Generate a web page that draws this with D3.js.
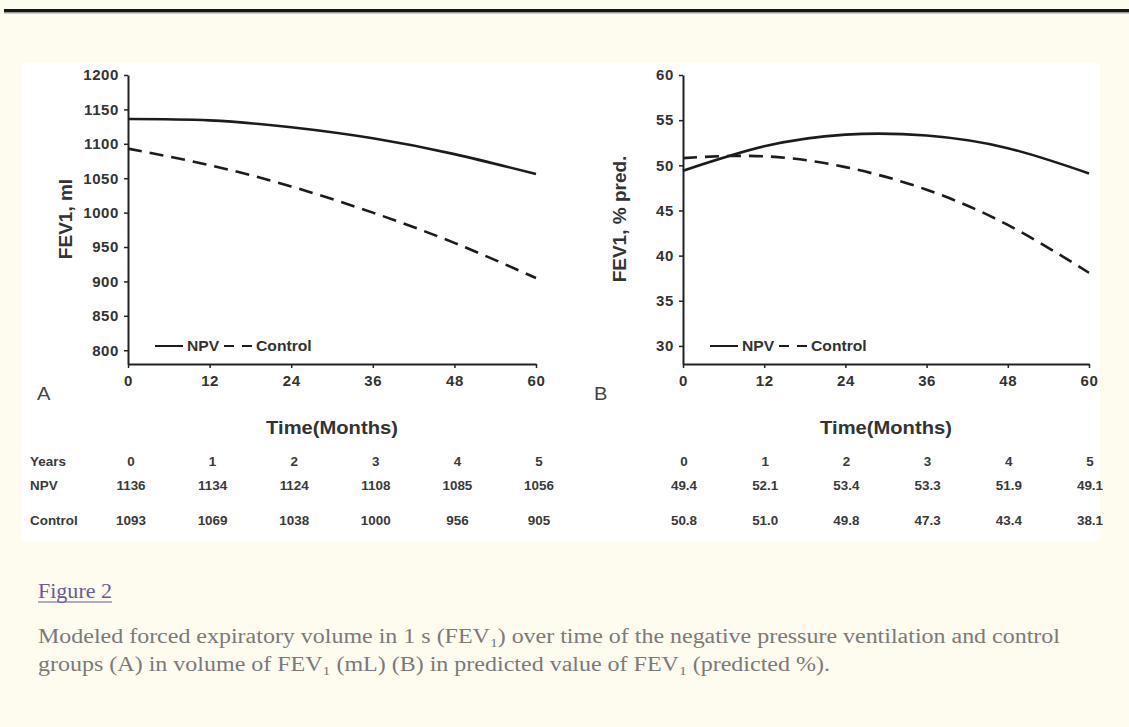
<!DOCTYPE html>
<html lang="en">
<head>
<meta charset="utf-8">
<title>FEV1 over time</title>
<script type="text/javascript" src="https://cdn.jsdelivr.net/npm/d3@7"></script>
<style type="text/css">
	body { margin:0; background:#fefcee; }
	svg text { font-family: Arial, "Liberation Sans", sans-serif; }
</style>
</head>
<body>
<div id="chart"></div>
<script type="text/javascript">

var years = [0,1,2,3,4,5]
var months = [0,12,24,36,48,60]
var npvMl = [1136,1134,1124,1108,1085,1056]
var controlMl = [1093,1069,1038,1000,956,905]
var npvPct = [49.4,52.1,53.4,53.3,51.9,49.1]
var controlPct = [50.8,51.0,49.8,47.3,43.4,38.1]
var yTicksMl = [800,850,900,950,1000,1050,1100,1150,1200]
var yTicksPct = [30,35,40,45,50,55,60]
var seriesNames = ["NPV","Control"]

var W = 1129, H = 727
var sx = 1.12   // the picture is a bit wider than tall

var svg = d3.select("#chart").append("svg")
	.attr("width",W)
	.attr("height",H)

svg.append("rect").attr("x",0).attr("y",0).attr("width",W).attr("height",H).attr("fill","#fefcee")
// top rule
svg.append("rect").attr("x",4).attr("y",9).attr("width",W-4).attr("height",3).attr("fill","#151515")
svg.append("rect").attr("x",4).attr("y",12).attr("width",W-4).attr("height",1.5).attr("fill","#9a9a9a")
// figure image area
svg.append("rect").attr("x",22).attr("y",63).attr("width",1078).attr("height",478).attr("fill","#ffffff")

function stretchText(g,x,y,txt){
	return g.append("text")
		.attr("transform","translate("+x+","+y+") scale("+sx+",1)")
		.text(txt)
}

function panel(opt){
	var x = d3.scaleLinear().domain([0,60]).range([opt.x0,opt.x1])
	var y = d3.scaleLinear().domain(opt.yDomain).range([364,75])
	var g = svg.append("g")

	var xAxis = d3.axisBottom(x).tickValues(months).tickFormat(d3.format("d"))
		.tickSize(4).tickSizeOuter(0).tickPadding(7)
	var yAxis = d3.axisLeft(y).tickValues(opt.yTicks).tickFormat(d3.format("d"))
		.tickSize(4).tickSizeOuter(0).tickPadding(5)

	var ga = g.append("g").attr("transform","translate(0,364)").call(xAxis)
	var gb = g.append("g").attr("transform","translate("+opt.x0+",0)").call(yAxis)
	;[ga,gb].forEach(function(a){
		a.select(".domain").attr("stroke","#222").attr("stroke-width",2)
		a.selectAll(".tick line").attr("stroke","#222").attr("stroke-width",1.5)
		a.selectAll(".tick text")
			.attr("fill","#333")
			.style("font-size","15px")
			.style("font-weight","bold")
			.style("letter-spacing","0.6px")
			.style("font-family","Arial, 'Liberation Sans', sans-serif")
	})

	var line = d3.line()
		.x(function(d){ return x(d.m) })
		.y(function(d){ return y(d.v) })
		.curve(d3.curveNatural)

	var sets = [opt.npv,opt.control]
	sets.forEach(function(vals,i){
		var pts = months.map(function(m,j){ return {m:m,v:vals[j]} })
		g.append("path")
			.datum(pts)
			.attr("d",line)
			.attr("fill","none")
			.attr("stroke","#1c1c1c")
			.attr("stroke-width",2.6)
			.attr("stroke-dasharray",i==1 ? "14,8" : null)
	})

	// legend
	var ly = 346
	g.append("line").attr("x1",opt.x0+27).attr("x2",opt.x0+55).attr("y1",ly).attr("y2",ly)
		.attr("stroke","#1c1c1c").attr("stroke-width",2)
	stretchText(g,opt.x0+59,ly+5,seriesNames[0])
		.attr("fill","#333").style("font-size","14px").style("font-weight","bold")
	g.append("line").attr("x1",opt.x0+96).attr("x2",opt.x0+124).attr("y1",ly).attr("y2",ly)
		.attr("stroke","#1c1c1c").attr("stroke-width",2).attr("stroke-dasharray","10,8")
	stretchText(g,opt.x0+128,ly+5,seriesNames[1])
		.attr("fill","#333").style("font-size","14px").style("font-weight","bold")

	// y title
	g.append("text")
		.attr("transform","translate("+opt.yTitleX+",219) rotate(-90)")
		.attr("text-anchor","middle")
		.attr("fill","#333")
		.style("font-size","19px")
		.style("font-weight","bold")
		.text(opt.yTitle)

	// x title
	stretchText(g,(opt.x0+opt.x1)/2,434,"Time(Months)")
		.attr("text-anchor","middle")
		.attr("fill","#333")
		.style("font-size","18px")
		.style("font-weight","bold")

	// panel letter
	stretchText(g,opt.letterX,400,opt.letter)
		.attr("fill","#444")
		.style("font-size","18px")

	// table under the panel
	var rows = [
		{name:"Years",vals:years,y:466},
		{name:"NPV",vals:opt.npv,y:490},
		{name:"Control",vals:opt.control,y:525}
	]
	rows.forEach(function(r){
		if(opt.rowNames){
			stretchText(g,30,r.y,r.name)
				.attr("fill","#3a3a3a").style("font-size","12px").style("font-weight","bold")
		}
		r.vals.forEach(function(v,j){
			var label = r.name=="Years" ? String(v) : (opt.fmt ? d3.format(".1f")(v) : String(v))
			stretchText(g,x(months[j])+opt.tableShift,r.y,label)
				.attr("text-anchor","middle")
				.attr("fill","#3a3a3a")
				.style("font-size","12px")
				.style("font-weight","bold")
		})
	})
}

panel({x0:128,x1:536,yDomain:[780,1200],yTicks:yTicksMl,npv:npvMl,control:controlMl,
	yTitle:"FEV1, ml",yTitleX:72,letter:"A",letterX:37,rowNames:true,fmt:false,tableShift:3})
panel({x0:683,x1:1089,yDomain:[28,60],yTicks:yTicksPct,npv:npvPct,control:controlPct,
	yTitle:"FEV1, % pred.",yTitleX:626,letter:"B",letterX:594,rowNames:false,fmt:true,tableShift:1})

// caption
var cap = svg.append("g").style("font-family","'Liberation Serif', 'Times New Roman', serif")
cap.append("text").attr("x",38).attr("y",598).attr("fill","#6a5a98")
	.style("font-family","'Liberation Serif', 'Times New Roman', serif")
	.style("font-size","20px").attr("textLength",74).attr("lengthAdjust","spacingAndGlyphs")
	.text("Figure 2")
cap.append("line").attr("x1",38).attr("x2",112).attr("y1",602).attr("y2",602)
	.attr("stroke","#6a5a98").attr("stroke-width",1.2)

var l1 = cap.append("text").attr("x",38).attr("y",643).attr("fill","#7a7a7a")
	.style("font-family","'Liberation Serif', 'Times New Roman', serif")
	.style("font-size","20px").attr("textLength",1022).attr("lengthAdjust","spacingAndGlyphs")
l1.append("tspan").text("Modeled forced expiratory volume in 1 s (FEV")
l1.append("tspan").attr("dy",4).style("font-size","13px").text("1")
l1.append("tspan").attr("dy",-4).text(") over time of the negative pressure ventilation and control")

var l2 = cap.append("text").attr("x",38).attr("y",671).attr("fill","#7a7a7a")
	.style("font-family","'Liberation Serif', 'Times New Roman', serif")
	.style("font-size","20px").attr("textLength",792).attr("lengthAdjust","spacingAndGlyphs")
l2.append("tspan").text("groups (A) in volume of FEV")
l2.append("tspan").attr("dy",4).style("font-size","13px").text("1")
l2.append("tspan").attr("dy",-4).text(" (mL) (B) in predicted value of FEV")
l2.append("tspan").attr("dy",4).style("font-size","13px").text("1")
l2.append("tspan").attr("dy",-4).text(" (predicted %).")

</script>
</body>
</html>
